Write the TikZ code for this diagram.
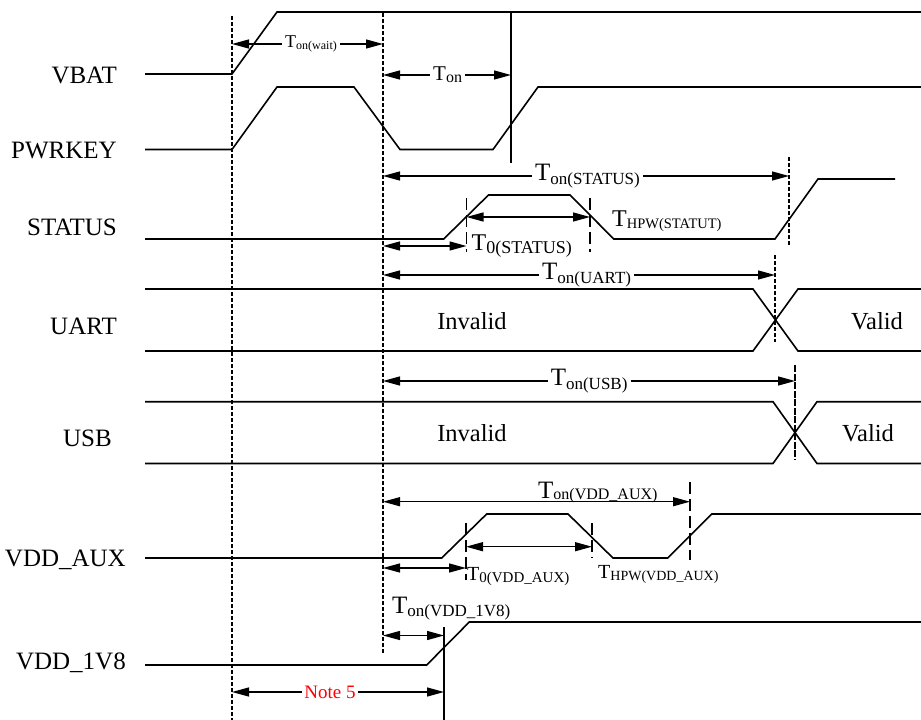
\documentclass[tikz,border=0pt]{standalone}
\usepackage{fontspec}
\setmainfont{Liberation Serif}
\usetikzlibrary{arrows.meta}
\tikzset{
	sig/.style={line width=1.6pt},
	guide/.style={line width=1.8pt,dash pattern=on 4pt off 2pt},
	cut/.style={line width=1.4pt,dash pattern=on 12pt off 5pt},
	dim/.style={line width=1.3pt},
	-tr/.style={dim,-{Triangle[length=17pt,width=9pt]}},
	tr-/.style={dim,{Triangle[length=17pt,width=9pt]}-},
	trtr/.style={dim,{Triangle[length=17pt,width=9pt]}-{Triangle[length=17pt,width=9pt]}},
	lbl/.style={inner sep=0pt,font=\fontsize{25}{25}\selectfont},
	state/.style={inner sep=0pt,anchor=base,font=\fontsize{24.5}{24.5}\selectfont},
	tl/.style={inner xsep=3pt,inner ysep=0pt,anchor=west},
	tb/.style={inner sep=0pt,anchor=base west}
}
\newcommand{\Tn}[4][-4pt]{\fontsize{#2}{#2}\selectfont T\raisebox{#1}{\fontsize{#3}{#3}\selectfont #4}}

\begin{document}
\begin{tikzpicture}[x=1pt,y=-1pt]
	\useasboundingbox (0,0) rectangle (921,720);
	\coordinate (tw) at (232,0);
	\coordinate (tk) at (383,0);
	\coordinate (ton) at (511,0);
	\coordinate (t18) at (444,0);
	\coordinate (tst) at (789,0);
	\coordinate (tua) at (775,0);
	\coordinate (tus) at (795,0);
	
	\node[lbl,anchor=base east] (vbat) at (117,83) {VBAT};
	\node[lbl,anchor=base east] (pwrkey) at (117,158) {PWRKEY};
	\node[lbl,anchor=base east] (status) at (117,235) {STATUS};
	\node[lbl,anchor=base east] (uart) at (117,334) {UART};
	\node[lbl,anchor=base east] (usb) at (112,446.5) {USB};
	\node[lbl,anchor=base east] (aux) at (126,566) {VDD\_AUX};
	\node[lbl,anchor=base east] (v18) at (126,669) {VDD\_1V8};
	
	\draw[sig] (145,74) -- (232,74) -- (277,12) -- (921,12);
	\draw[sig] (145,149.5) -- (232,149.5) -- (277,87) -- (354,87) -- (400,149.5) -- (493,149.5) -- (538,87) -- (921,87);
	\draw[sig] (145,239) -- (443.7,239) -- (488.5,195) -- (570,195) -- (613.8,239) -- (775,239) -- (818,179) -- (895,179);
	\draw[sig] (145,289) -- (753,289) -- (798,351) -- (921,351);
	\draw[sig] (145,351) -- (753,351) -- (798,289) -- (921,289);
	\draw[sig] (145,401.7) -- (773,401.7) -- (817,463.5) -- (921,463.5);
	\draw[sig] (145,463.5) -- (773,463.5) -- (817,401.7) -- (921,401.7);
	\draw[sig] (145,558) -- (441.7,558) -- (486.7,514) -- (568,514) -- (613,558) -- (667.7,558) -- (711.7,514) -- (921,514);
	\draw[sig] (145,665) -- (426.7,665) -- (469.3,622) -- (921,622);
	
	\draw[guide] (232,16) -- (232,720);
	\draw[guide] (383,13) -- (383,653);
	\draw[sig] (511,13) -- (511,163);
	\draw[sig] (444,627) -- (444,720);
	\draw[guide] (789,157) -- (789,245);
	\draw[guide] (775,255) -- (775,342);
	\draw[guide,line width=1.4pt,dash pattern=on 7pt off 1.5pt] (795,365) -- (795,460);
	\draw[cut] (690,482) -- (690,560);
	\draw[cut] (466.5,198) -- (466.5,252);
	\draw[cut] (590,198) -- (590,252);
	\draw[cut] (466,523) -- (466,580);
	\draw[cut] (592,523) -- (592,558);
	
	\node[tl] (twait) at (282,44) {\Tn[-2pt]{18}{12}{on(wait)}};
	\draw[tr-] (tw |- twait.west) -- (twait.west);
	\draw[-tr] (twait.east) -- (tk |- twait.east);
	\node[tl] (tonk) at (430,75) {\Tn[-2pt]{21}{16}{on}};
	\draw[tr-] (tk |- tonk.west) -- (tonk.west);
	\draw[-tr] (tonk.east) -- (ton |- tonk.east);
	
	\node[tl] (tons) at (532,176) {\Tn{25}{17}{on(STATUS)}};
	\draw[tr-] (tk |- tons.west) -- (tons.west);
	\draw[-tr] (tons.east) -- (tst |- tons.east);
	\draw[trtr] (466.5,217) -- (590,217);
	\draw[trtr] (383,246) -- (466.5,246);
	\node[tb] (t0s) at (471.5,250.5) {\Tn[-3pt]{24}{18}{0(STATUS)}};
	\node[tb] (ths) at (612,226) {\Tn[-2pt]{24}{14.5}{HPW(STATUT)}};
	
	\node[tl] (tonu) at (539,275) {\Tn{25}{17}{on(UART)}};
	\draw[tr-] (tk |- tonu.west) -- (tonu.west);
	\draw[-tr] (tonu.east) -- (tua |- tonu.east);
	\node[state] (inv1) at (472,329) {Invalid};
	\node[state] (val1) at (877,329) {Valid};
	
	\node[tl] (tonb) at (547.6,381) {\Tn{25}{17}{on(USB)}};
	\draw[tr-] (tk |- tonb.west) -- (tonb.west);
	\draw[-tr] (tonb.east) -- (tus |- tonb.east);
	\node[state] (inv2) at (472,441.5) {Invalid};
	\node[state] (val2) at (868,441.5) {Valid};
	
	\node[tb] (tona) at (538,498) {\Tn[-1pt]{25}{16}{on(VDD\_AUX)}};
	\draw[trtr] (383,501.7) -- (690,501.7);
	\draw[trtr] (466,546.7) -- (592,546.7);
	\draw[trtr] (383,568) -- (466,568);
	\node[tb] (t0a) at (467,580) {\Tn[-2pt]{20}{15}{0(VDD\_AUX)}};
	\node[tb] (tha) at (598,578) {\Tn[-2pt]{20}{14}{HPW(VDD\_AUX)}};
	
	\node[tb] (ton8) at (392,613) {\Tn[-3pt]{25}{17}{on(VDD\_1V8)}};
	\draw[trtr] (383,635.5) -- (444,635.5);
	\node[inner xsep=2pt,inner ysep=0pt,text=red,font=\fontsize{19}{19}\selectfont] (note) at (330,692) {Note 5};
	\draw[tr-] (tw |- note.west) -- (note.west);
	\draw[-tr] (note.east) -- (t18 |- note.east);
\end{tikzpicture}
\end{document}
